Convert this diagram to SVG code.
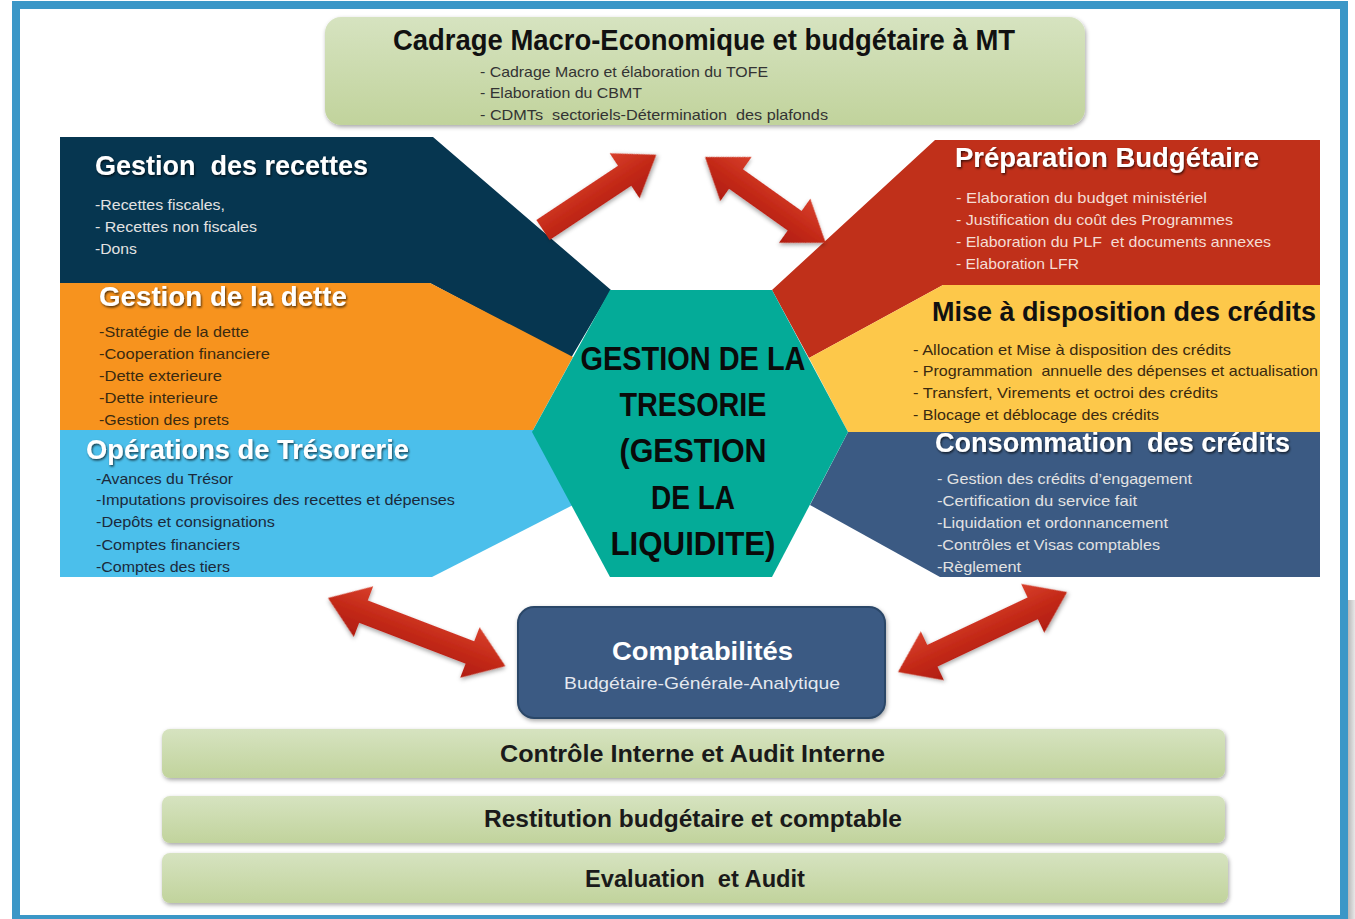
<svg xmlns="http://www.w3.org/2000/svg" width="1355" height="919" viewBox="0 0 1355 919">
<defs>
<linearGradient id="green" x1="0" y1="0" x2="0" y2="1"><stop offset="0" stop-color="#d6e3c0"/><stop offset="1" stop-color="#c1d39c"/></linearGradient>
<linearGradient id="red" x1="0" y1="0" x2="0" y2="1"><stop offset="0" stop-color="#d8402c"/><stop offset="0.5" stop-color="#c42a18"/><stop offset="1" stop-color="#b01c10"/></linearGradient>
<linearGradient id="edge" x1="0" y1="0" x2="1" y2="0"><stop offset="0" stop-color="#b8b8b8"/><stop offset="1" stop-color="#e8e8e8"/></linearGradient>
<filter id="sh" x="-10%" y="-10%" width="125%" height="130%"><feDropShadow dx="1" dy="2" stdDeviation="2" flood-color="#000" flood-opacity="0.35"/></filter>
<filter id="tsh" x="-5%" y="-20%" width="115%" height="150%"><feDropShadow dx="1" dy="1.5" stdDeviation="1.2" flood-color="#000" flood-opacity="0.7"/></filter>
</defs>
<style>
text{font-family:"Liberation Sans",Arial,sans-serif;white-space:pre}
.ttl{font-weight:bold;font-size:27px;fill:#fff;filter:url(#tsh)}
.ttlk{font-weight:bold;font-size:27px;fill:#111}
.b{font-size:14.5px}
.lt{fill:#e2e2e2}
.dk{fill:#3a2a10}
.nv{fill:#1b2a3c}
.pk{fill:#f4ddd4}
.ctr{font-weight:bold;font-size:34px;fill:#0a0a0a}
.bar{font-weight:bold;font-size:23px;fill:#1a1a1a}
.arrow{fill:url(#red);filter:url(#sh)}
</style>
<rect x="0" y="0" width="1355" height="919" fill="#fff"/>
<rect x="1348" y="600" width="7" height="319" fill="url(#edge)"/>
<rect x="16" y="5" width="1328" height="914" fill="#fff" stroke="#3b97c7" stroke-width="8"/>

<g id="cadrage">
<rect x="325" y="17" width="760" height="108" rx="16" fill="url(#green)" filter="url(#sh)"/>
<text x="393" y="50" font-weight="bold" font-size="29" fill="#111" textLength="622" lengthAdjust="spacingAndGlyphs">Cadrage Macro-Economique et budgétaire à MT</text>
<text class="b" x="480" y="77" fill="#333" textLength="288" lengthAdjust="spacingAndGlyphs">- Cadrage Macro et élaboration du TOFE</text>
<text class="b" x="480" y="98" fill="#333" textLength="162" lengthAdjust="spacingAndGlyphs">- Elaboration du CBMT</text>
<text class="b" x="480" y="120" fill="#333" textLength="348" lengthAdjust="spacingAndGlyphs">- CDMTs  sectoriels-Détermination  des plafonds</text>
</g>

<g id="recettes">
<polygon points="60,137 433,137 611,290 571,358 430,283 60,283" fill="#063650"/>
<text class="ttl" x="95" y="175" textLength="273" lengthAdjust="spacingAndGlyphs">Gestion  des recettes</text>
<text class="b lt" x="95" y="210" textLength="130" lengthAdjust="spacingAndGlyphs">-Recettes fiscales,</text>
<text class="b lt" x="95" y="232" textLength="162" lengthAdjust="spacingAndGlyphs">- Recettes non fiscales</text>
<text class="b lt" x="95" y="254" textLength="42" lengthAdjust="spacingAndGlyphs">-Dons</text>
</g>

<g id="dette">
<polygon points="60,283 430,283 573,357 533,430 60,430" fill="#f7931e"/>
<text class="ttl" x="99" y="306" textLength="248" lengthAdjust="spacingAndGlyphs">Gestion de la dette</text>
<text class="b dk" x="99" y="337" textLength="150" lengthAdjust="spacingAndGlyphs">-Stratégie de la dette</text>
<text class="b dk" x="99" y="359" textLength="171" lengthAdjust="spacingAndGlyphs">-Cooperation financiere</text>
<text class="b dk" x="99" y="381" textLength="123" lengthAdjust="spacingAndGlyphs">-Dette exterieure</text>
<text class="b dk" x="99" y="403" textLength="119" lengthAdjust="spacingAndGlyphs">-Dette interieure</text>
<text class="b dk" x="99" y="425" textLength="130" lengthAdjust="spacingAndGlyphs">-Gestion des prets</text>
</g>

<g id="tresorerie">
<polygon points="60,430 533,430 573,505 432,577 60,577" fill="#4bbfeb"/>
<text class="ttl" x="86" y="459" textLength="323" lengthAdjust="spacingAndGlyphs">Opérations de Trésorerie</text>
<text class="b nv" x="96" y="484" textLength="137" lengthAdjust="spacingAndGlyphs">-Avances du Trésor</text>
<text class="b nv" x="96" y="505" textLength="359" lengthAdjust="spacingAndGlyphs">-Imputations provisoires des recettes et dépenses</text>
<text class="b nv" x="96" y="527" textLength="179" lengthAdjust="spacingAndGlyphs">-Depôts et consignations</text>
<text class="b nv" x="96" y="550" textLength="144" lengthAdjust="spacingAndGlyphs">-Comptes financiers</text>
<text class="b nv" x="96" y="572" textLength="134" lengthAdjust="spacingAndGlyphs">-Comptes des tiers</text>
</g>

<g id="preparation">
<polygon points="935,140 1320,140 1320,285 943,285 809,358 772,290" fill="#c0301a"/>
<text class="ttl" x="955" y="167" textLength="304" lengthAdjust="spacingAndGlyphs">Préparation Budgétaire</text>
<text class="b pk" x="956" y="203" textLength="251" lengthAdjust="spacingAndGlyphs">- Elaboration du budget ministériel</text>
<text class="b pk" x="956" y="225" textLength="277" lengthAdjust="spacingAndGlyphs">- Justification du coût des Programmes</text>
<text class="b pk" x="956" y="247" textLength="315" lengthAdjust="spacingAndGlyphs">- Elaboration du PLF  et documents annexes</text>
<text class="b pk" x="956" y="269" textLength="123" lengthAdjust="spacingAndGlyphs">- Elaboration LFR</text>
</g>

<g id="mise-a-disposition">
<polygon points="943,285 1320,285 1320,432 848,432 809,358" fill="#fdc84a"/>
<text class="ttlk" x="932" y="321" textLength="384" lengthAdjust="spacingAndGlyphs">Mise à disposition des crédits</text>
<text class="b dk" x="913" y="355" textLength="318" lengthAdjust="spacingAndGlyphs">- Allocation et Mise à disposition des crédits</text>
<text class="b dk" x="913" y="376" textLength="405" lengthAdjust="spacingAndGlyphs">- Programmation  annuelle des dépenses et actualisation</text>
<text class="b dk" x="913" y="398" textLength="305" lengthAdjust="spacingAndGlyphs">- Transfert, Virements et octroi des crédits</text>
<text class="b dk" x="913" y="420" textLength="246" lengthAdjust="spacingAndGlyphs">- Blocage et déblocage des crédits</text>
</g>

<g id="consommation">
<polygon points="848,432 1320,432 1320,577 940,577 810,505" fill="#3b5a83"/>
<text class="ttl" x="935" y="452" textLength="355" lengthAdjust="spacingAndGlyphs">Consommation  des crédits</text>
<text class="b lt" x="937" y="484" textLength="255" lengthAdjust="spacingAndGlyphs">- Gestion des crédits d’engagement</text>
<text class="b lt" x="937" y="506" textLength="200" lengthAdjust="spacingAndGlyphs">-Certification du service fait</text>
<text class="b lt" x="937" y="528" textLength="231" lengthAdjust="spacingAndGlyphs">-Liquidation et ordonnancement</text>
<text class="b lt" x="937" y="550" textLength="223" lengthAdjust="spacingAndGlyphs">-Contrôles et Visas comptables</text>
<text class="b lt" x="937" y="572" textLength="84" lengthAdjust="spacingAndGlyphs">-Règlement</text>
</g>

<g id="tresorie-center">
<polygon points="610,290 772,290 848,432 772,577 610,577 532,432" fill="#04ab98"/>
<text class="ctr" x="693" y="370" text-anchor="middle" textLength="225" lengthAdjust="spacingAndGlyphs">GESTION DE LA</text>
<text class="ctr" x="693" y="416" text-anchor="middle" textLength="147" lengthAdjust="spacingAndGlyphs">TRESORIE</text>
<text class="ctr" x="693" y="462" text-anchor="middle" textLength="147" lengthAdjust="spacingAndGlyphs">(GESTION</text>
<text class="ctr" x="693" y="509" text-anchor="middle" textLength="84" lengthAdjust="spacingAndGlyphs">DE LA</text>
<text class="ctr" x="693" y="555" text-anchor="middle" textLength="165" lengthAdjust="spacingAndGlyphs">LIQUIDITE)</text>
</g>

<g id="comptabilites">
<rect x="518" y="607" width="367" height="111" rx="16" fill="#3b5a83" stroke="#2b4768" stroke-width="2" filter="url(#sh)"/>
<text x="612" y="660" font-weight="bold" font-size="26" fill="#fff" textLength="181" lengthAdjust="spacingAndGlyphs">Comptabilités</text>
<text x="564" y="689" font-size="17" fill="#e4e8ef" textLength="276" lengthAdjust="spacingAndGlyphs">Budgétaire-Générale-Analytique</text>
</g>

<g id="controle-interne">
<rect x="162" y="729" width="1063" height="49" rx="8" fill="url(#green)" filter="url(#sh)"/>
<text class="bar" x="500" y="762" textLength="385" lengthAdjust="spacingAndGlyphs">Contrôle Interne et Audit Interne</text>
</g>
<g id="restitution">
<rect x="162" y="796" width="1063" height="47" rx="8" fill="url(#green)" filter="url(#sh)"/>
<text class="bar" x="484" y="827" textLength="418" lengthAdjust="spacingAndGlyphs">Restitution budgétaire et comptable</text>
</g>
<g id="evaluation">
<rect x="162" y="853" width="1066" height="50" rx="8" fill="url(#green)" filter="url(#sh)"/>
<text class="bar" x="585" y="887" textLength="220" lengthAdjust="spacingAndGlyphs">Evaluation  et Audit</text>
</g>

<g id="connectors">
<path class="arrow" transform="translate(543,230) rotate(-33.6)" d="M0,-12 L98,-12 L98,-27 L136,0 L98,27 L98,12 L0,12 Z"/>
<path class="arrow" transform="translate(705,157) rotate(35.4)" d="M0,0 L38,-27 L38,-12 L110,-12 L110,-27 L148,0 L110,27 L110,12 L38,12 L38,27 Z"/>
<path class="arrow" transform="translate(328,598) rotate(21)" d="M0,0 L38,-27 L38,-12 L152,-12 L152,-27 L190,0 L152,27 L152,12 L38,12 L38,27 Z"/>
<path class="arrow" transform="translate(898,672) rotate(-25.3)" d="M0,0 L38,-27 L38,-12 L149,-12 L149,-27 L187,0 L149,27 L149,12 L38,12 L38,27 Z"/>
</g>
</svg>
